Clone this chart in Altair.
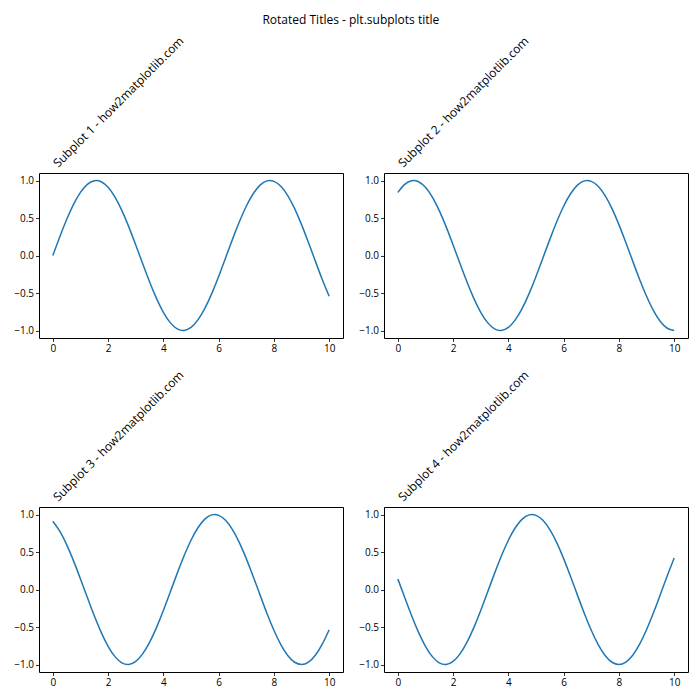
import altair as alt
import pandas as pd

x_vals = [0.0, 0.25, 0.5, 0.75, 1.0, 1.25, 1.5, 1.75, 2.0, 2.25, 2.5, 2.75,
          3.0, 3.25, 3.5, 3.75, 4.0, 4.25, 4.5, 4.75, 5.0, 5.25, 5.5, 5.75,
          6.0, 6.25, 6.5, 6.75, 7.0, 7.25, 7.5, 7.75, 8.0, 8.25, 8.5, 8.75,
          9.0, 9.25, 9.5, 9.75, 10.0]
y_sub1 = [0.000, 0.247, 0.479, 0.682, 0.841, 0.949, 0.997, 0.984, 0.909, 0.778,
          0.598, 0.382, 0.141, -0.108, -0.351, -0.572, -0.757, -0.895, -0.978,
          -0.999, -0.959, -0.859, -0.706, -0.508, -0.279, -0.033, 0.215, 0.450,
          0.657, 0.823, 0.938, 0.995, 0.989, 0.922, 0.798, 0.625, 0.412, 0.174,
          -0.075, -0.320, -0.544]
y_sub2 = [0.841, 0.949, 0.997, 0.984, 0.909, 0.778, 0.598, 0.382, 0.141, -0.108,
          -0.351, -0.572, -0.757, -0.895, -0.978, -0.999, -0.959, -0.859, -0.706,
          -0.508, -0.279, -0.033, 0.215, 0.450, 0.657, 0.823, 0.938, 0.995, 0.989,
          0.922, 0.798, 0.625, 0.412, 0.174, -0.075, -0.320, -0.544, -0.735,
          -0.880, -0.970, -1.000]
y_sub3 = [0.909, 0.778, 0.598, 0.382, 0.141, -0.108, -0.351, -0.572, -0.757,
          -0.895, -0.978, -0.999, -0.959, -0.859, -0.706, -0.508, -0.279, -0.033,
          0.215, 0.450, 0.657, 0.823, 0.938, 0.995, 0.989, 0.922, 0.798, 0.625,
          0.412, 0.174, -0.075, -0.320, -0.544, -0.735, -0.880, -0.970, -1.000,
          -0.968, -0.876, -0.729, -0.537]
y_sub4 = [0.141, -0.108, -0.351, -0.572, -0.757, -0.895, -0.978, -0.999, -0.959,
          -0.859, -0.706, -0.508, -0.279, -0.033, 0.215, 0.450, 0.657, 0.823,
          0.938, 0.995, 0.989, 0.922, 0.798, 0.625, 0.412, 0.174, -0.075, -0.320,
          -0.544, -0.735, -0.880, -0.970, -1.000, -0.968, -0.876, -0.729, -0.537,
          -0.311, -0.066, 0.183, 0.420]

titles = ["Subplot 1 - how2matplotlib.com", "Subplot 2 - how2matplotlib.com",
          "Subplot 3 - how2matplotlib.com", "Subplot 4 - how2matplotlib.com"]
suptitle = "Rotated Titles - plt.subplots title"
x_ticks = [0, 2, 4, 6, 8, 10]
y_ticks = [-1.0, -0.5, 0.0, 0.5, 1.0]

FONT = "Open Sans"


def panel(title, ys):
    df = pd.DataFrame({"x": x_vals, "y": ys})
    return alt.Chart(
        df,
        title=alt.TitleParams(
            text=title, angle=315, anchor="start", frame="group",
            align="left", baseline="alphabetic", dx=-82.4, dy=109.6, offset=6,
            fontSize=12, font=FONT, fontWeight="normal", color="black",
        ),
    ).mark_line(color="#1f77b4", strokeWidth=1.5, interpolate="natural").encode(
        x=alt.X("x:Q", scale=alt.Scale(domain=[-0.5, 10.5], nice=False, zero=False),
                axis=alt.Axis(values=x_ticks, format="d", title=None)),
        y=alt.Y("y:Q", scale=alt.Scale(domain=[-1.1, 1.1], nice=False, zero=False),
                axis=alt.Axis(values=y_ticks, format=".1f", title=None)),
    ).properties(width=304, height=165)


panels = [panel(t, y) for t, y in zip(titles, [y_sub1, y_sub2, y_sub3, y_sub4])]

chart = alt.concat(
    *panels, columns=2, spacing={"row": 169, "column": 41}, bounds="flush",
).properties(
    title=alt.TitleParams(suptitle, anchor="middle", frame="bounds", dx=0,
                          fontSize=12, font=FONT, fontWeight="normal", color="black",
                          offset=7),
    padding={"left": 13, "top": 14, "right": 5, "bottom": 5},
).configure_view(
    stroke="black", strokeWidth=1
).configure_axis(
    grid=False, domain=False, tickColor="black", tickSize=3.5, tickWidth=0.8,
    labelFontSize=10, labelFont=FONT, labelColor="black", labelPadding=2,
)

chart.save("out.html", embed_options={"renderer": "svg", "actions": False})
